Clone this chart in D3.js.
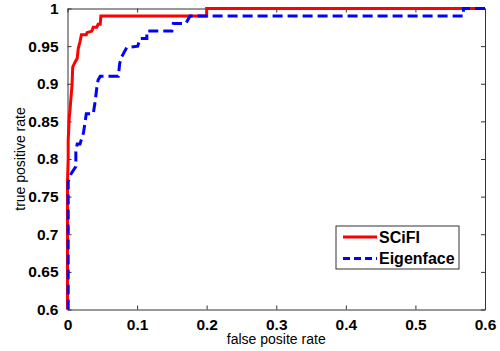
<!DOCTYPE html>
<html>
<head>
<meta charset="utf-8">
<script src="https://cdn.jsdelivr.net/npm/d3@7"></script>
<style>
  body { margin: 0; background: #fff; }
  svg { display: block; font-family: "Liberation Sans", Arial, sans-serif; }
</style>
</head>
<body>
<div id="chart"></div>
<script>
// ROC curves: [false positive rate, true positive rate]
var scifiPoints = [
  [0, 0.6], [0, 0.77], [0.001, 0.8], [0.001, 0.825], [0.0026, 0.856], [0.0036, 0.865],
  [0.005, 0.882], [0.0065, 0.898], [0.0075, 0.922], [0.011, 0.929], [0.014, 0.934],
  [0.0155, 0.947], [0.018, 0.956], [0.02, 0.965], [0.027, 0.965], [0.028, 0.968],
  [0.035, 0.97], [0.037, 0.975], [0.042, 0.975], [0.044, 0.979], [0.047, 0.979],
  [0.048, 0.99], [0.2, 0.99], [0.2, 1], [0.6, 1]
]
var eigenPoints = [
  [0.001, 0.6], [0.001, 0.77], [0.005, 0.78], [0.012, 0.79], [0.012, 0.81], [0.014, 0.82],
  [0.018, 0.82], [0.023, 0.835], [0.027, 0.86], [0.037, 0.86], [0.04, 0.878],
  [0.042, 0.894], [0.044, 0.905], [0.047, 0.91], [0.073, 0.91], [0.075, 0.927],
  [0.078, 0.936], [0.085, 0.948], [0.101, 0.95], [0.104, 0.96], [0.114, 0.96],
  [0.114, 0.97], [0.15, 0.97], [0.152, 0.98], [0.17, 0.98], [0.176, 0.99],
  [0.569, 0.99], [0.569, 1], [0.6, 1]
]
var xTicks = [0, 0.1, 0.2, 0.3, 0.4, 0.5, 0.6]
var yTicks = [0.6, 0.65, 0.7, 0.75, 0.8, 0.85, 0.9, 0.95, 1]
var seriesNames = ["SCiFI", "Eigenface"]

var width = 500, height = 351
var margin = { top: 8.5, right: 15, bottom: 41.5, left: 67.5 }
var innerW = width - margin.left - margin.right
var innerH = height - margin.top - margin.bottom

var svg = d3.select("#chart").append("svg")
  .attr("width", width)
  .attr("height", height)

var x = d3.scaleLinear().domain([0, 0.6]).range([margin.left, margin.left + innerW])
var y = d3.scaleLinear().domain([0.6, 1]).range([margin.top + innerH, margin.top])

var fmt = function(d) { return d === 0 ? "0" : d === 1 ? "1" : String(d) }

// bottom axis
var gx = svg.append("g")
  .attr("transform", "translate(0," + (margin.top + innerH) + ")")
  .call(d3.axisBottom(x).tickValues(xTicks).tickFormat(fmt).tickSizeInner(-4).tickSizeOuter(0).tickPadding(9))
// top axis (ticks only)
var gxt = svg.append("g")
  .attr("transform", "translate(0," + margin.top + ")")
  .call(d3.axisTop(x).tickValues(xTicks).tickFormat("").tickSizeInner(-4).tickSizeOuter(0))
// left axis
var gy = svg.append("g")
  .attr("transform", "translate(" + margin.left + ",0)")
  .call(d3.axisLeft(y).tickValues(yTicks).tickFormat(fmt).tickSizeInner(-4).tickSizeOuter(0).tickPadding(9))
// right axis (ticks only)
var gyr = svg.append("g")
  .attr("transform", "translate(" + (margin.left + innerW) + ",0)")
  .call(d3.axisRight(y).tickValues(yTicks).tickFormat("").tickSizeInner(-4).tickSizeOuter(0))

;[gx, gxt, gy, gyr].forEach(function(g) {
  g.selectAll("path").attr("stroke", "#333")
  g.selectAll("line").attr("stroke", "#333")
  g.selectAll("text")
    .attr("fill", "#000")
    .style("font-size", "15.5px")
    .style("font-weight", "bold")
})

var line = d3.line()
  .x(function(d) { return x(d[0]) })
  .y(function(d) { return y(d[1]) })

svg.append("path")
  .datum(scifiPoints)
  .attr("d", line)
  .attr("fill", "none")
  .attr("stroke", "#ff0000")
  .attr("stroke-width", 3)

svg.append("path")
  .datum(eigenPoints)
  .attr("d", line)
  .attr("fill", "none")
  .attr("stroke", "#0000ff")
  .attr("stroke-width", 3)
  .attr("stroke-dasharray", "10,5")

// axis labels
svg.append("text")
  .attr("x", margin.left + innerW / 2)
  .attr("y", 344)
  .attr("text-anchor", "middle")
  .style("font-size", "14px")
  .text("false posite rate")

svg.append("text")
  .attr("transform", "translate(25," + (margin.top + innerH / 2) + ") rotate(-90)")
  .attr("text-anchor", "middle")
  .style("font-size", "14px")
  .text("true positive rate")

// legend
var legend = svg.append("g").attr("transform", "translate(336,226)")
legend.append("rect")
  .attr("width", 123).attr("height", 43)
  .attr("fill", "#fff").attr("stroke", "#333")
var legendStyles = [
  { color: "#ff0000", dash: null },
  { color: "#0000ff", dash: "7,4" }
]
seriesNames.forEach(function(name, i) {
  var row = legend.append("g").attr("transform", "translate(0," + (11 + i * 21.5) + ")")
  row.append("line")
    .attr("x1", 7).attr("x2", 41).attr("y1", 0).attr("y2", 0)
    .attr("stroke", legendStyles[i].color)
    .attr("stroke-width", 3)
    .attr("stroke-dasharray", legendStyles[i].dash)
  row.append("text")
    .attr("x", 43).attr("y", 5.5)
    .style("font-size", "16px")
    .style("font-weight", "bold")
    .text(name)
})
</script>
</body>
</html>
